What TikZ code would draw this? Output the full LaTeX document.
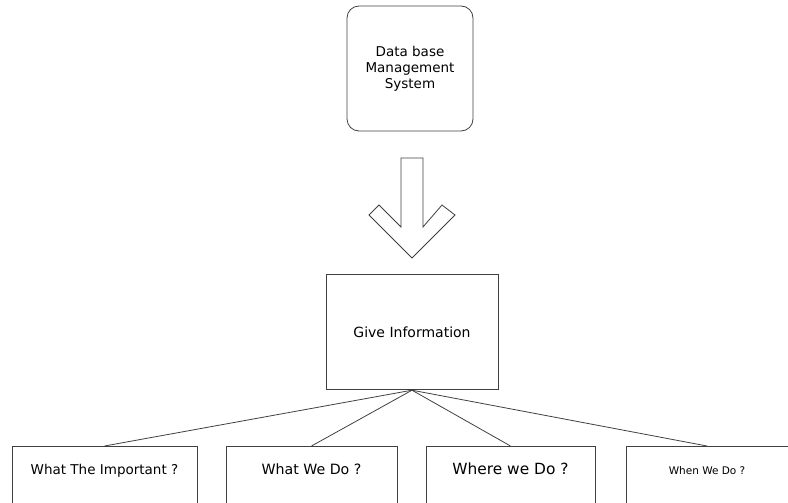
\documentclass[tikz,border=0pt]{standalone}
\usepackage{fontspec}
\setmainfont{DejaVu Sans}
\usetikzlibrary{positioning}
\tikzset{
  dbms/.style = {rectangle, rounded corners=12pt, draw=black!75, line width=0.8pt, minimum width=126pt, minimum height=125pt, align=center, font=\fontsize{13.5}{16}\selectfont},
  info/.style = {rectangle, draw=black!75, line width=0.8pt, minimum width=172pt, minimum height=115pt, font=\fontsize{14}{17}\selectfont},
  question/.style = {rectangle, draw=black!75, line width=0.8pt, anchor=north, inner ysep=18pt, text height=10pt, text depth=60pt, font=\fontsize{13.5}{16}\selectfont},
  link/.style = {draw=black!75, line width=0.8pt},
  bigarrow/.style = {draw=black!75, line width=0.8pt, fill=white, line join=miter}
}

\begin{document}
\begin{tikzpicture}[x=1pt, y=-1pt]
    \useasboundingbox (0,0) rectangle (788,503);
    \clip (0,0) rectangle (788,503);

    % Nodes
    \node [dbms] (db) at (410,68.5) {Data base \\ Management \\ System};
    \node [info, below=143pt of db, xshift=2pt] (give) {Give Information};
    \node [question, minimum width=185pt] (what) at (104.5,446) {What The Important ?};
    \node [question, minimum width=171pt, font=\fontsize{14.2}{17}\selectfont] (whatdo) at (311.5,446) {What We Do ?};
    \node [question, minimum width=169pt, font=\fontsize{15.4}{18}\selectfont] (where) at (510.5,446) {Where we Do ?};
    \node [question, minimum width=162pt, font=\fontsize{10.5}{13}\selectfont] (when) at (707,446) {When We Do ?};

    % Block arrow between db and give
    \draw [bigarrow] (401,158) -- (423,158) -- (423,227) -- (442,205) -- (455,215)
        -- (412,258) -- (369,215) -- (379,205) -- (401,227) -- cycle;

    % Edges
    \path [link] (give.south) -- (what.north);
    \path [link] (give.south) -- (whatdo.north);
    \path [link] (give.south) -- (where.north);
    \path [link] (give.south) -- (when.north);
\end{tikzpicture}
\end{document}
